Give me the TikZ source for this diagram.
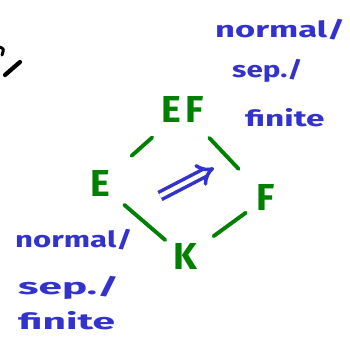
\documentclass[tikz,border=0pt]{standalone}
\usepackage{fontspec}
\usepackage{graphicx}
\newfontfamily\handfont{Fira Sans}
\usetikzlibrary{arrows.meta}
\definecolor{handgreen}{RGB}{0,128,0}
\definecolor{handblue}{RGB}{50,50,205}

\begin{document}
\begin{tikzpicture}[
    x=0.03cm, y=-0.03cm,
    fieldnode/.style={text=handgreen, inner sep=0pt,
        font=\handfont\bfseries\fontsize{32}{34}\selectfont},
    notenode/.style={text=handblue, inner sep=0pt, anchor=base west,
        font=\handfont\bfseries\fontsize{19}{21}\selectfont},
    extline/.style={draw=handgreen, line width=3.3pt, line cap=round},
    cellarrow/.style={draw=handblue, line width=3pt, double=white,
        double distance=3.6pt, -{Implies}},
    inkstroke/.style={draw=black, line width=3.6pt, line cap=round}
]
\useasboundingbox (0,0) rectangle (350,343);
\clip (0,0) rectangle (350,343);

% Nodes
\node[fieldnode] (EF) at (183,110) {E\hspace{0.12em}F};
\node[fieldnode] (E) at (100,184) {E};
\node[fieldnode] (F) at (266,198) {F};
\node[fieldnode] (K) at (185,257) {K};
\coordinate (celltail) at (160,196);
\coordinate (cellhead) at (214,168);

% Notes
\node[notenode] (upnormal) at (215,38) {\scalebox{1.55}[1]{normal/}};
\node[notenode] (upsep) at (232,78) {\scalebox{1.33}[1]{sep./}};
\node[notenode] (upfinite) at (245,127) {\scalebox{1.5}[1]{finite}};
\node[notenode] (lownormal) at (15,248) {\scalebox{1.4}[1]{normal/}};
\node[notenode] (lowsep) at (18,295) {\scalebox{1.9}[1]{sep./}};
\node[notenode] (lowfinite) at (18,330) {\scalebox{1.83}[1]{finite}};

% leftover ink at the left edge
\draw[inkstroke] (5,75) -- (20,62);
\draw[inkstroke, line width=2.5pt] (0,47) .. controls (4,49) .. (2,55);

% Paths
\draw[extline, shorten <=1.27cm, shorten >=1.24cm] (E.center) -- (EF.center);
\draw[extline, shorten <=1.15cm, shorten >=1.2cm] (EF.center) -- (F.center);
\draw[extline, shorten <=0.96cm, shorten >=0.78cm] (E.center) -- (K.center);
\draw[extline, shorten <=0.75cm, shorten >=1.06cm] (F.center) -- (K.center);
\draw[cellarrow] (celltail) -- (cellhead);

\end{tikzpicture}
\end{document}
